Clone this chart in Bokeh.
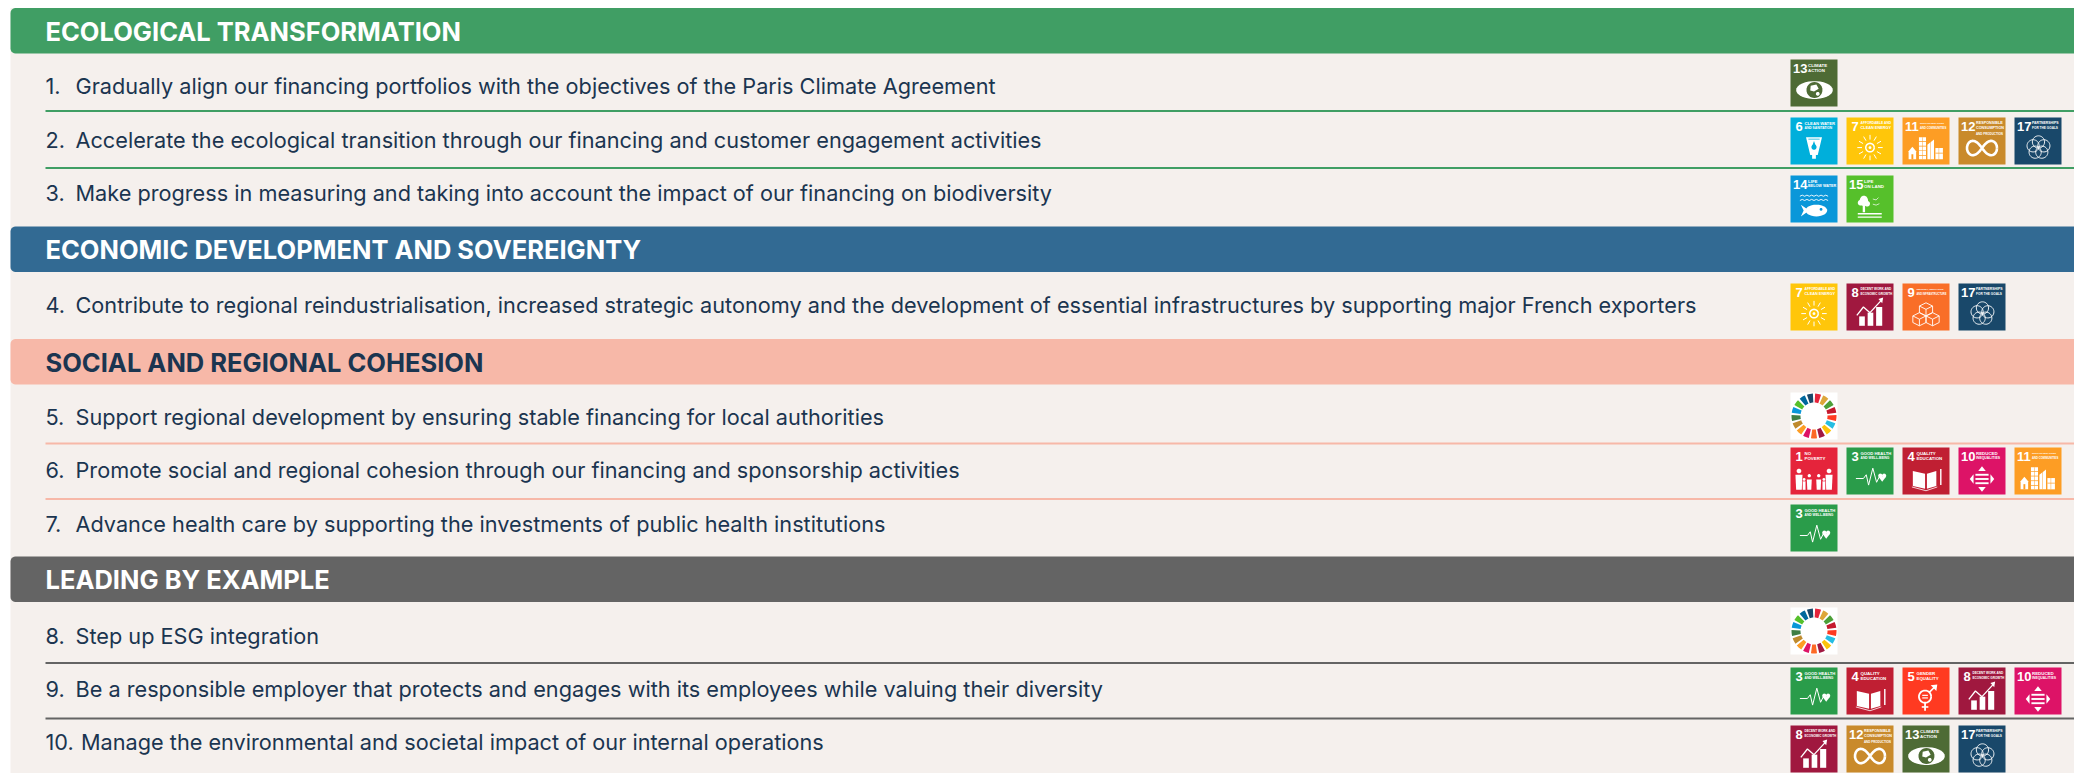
import numpy as np
from bokeh.plotting import figure
from bokeh.models import Range1d, ColumnDataSource
from bokeh.core.properties import value
from bokeh.embed import file_html
from bokeh.resources import INLINE

# ---- content -------------------------------------------------------------
section_titles = ["ECOLOGICAL TRANSFORMATION", "ECONOMIC DEVELOPMENT AND SOVEREIGNTY",
                  "SOCIAL AND REGIONAL COHESION", "LEADING BY EXAMPLE"]
section_colors = ["#409E64", "#326A93", "#F7B8A8", "#646464"]
section_text = ["#FFFFFF", "#FFFFFF", "#1B3550", "#FFFFFF"]

numbers = ["1.", "2.", "3.", "4.", "5.", "6.", "7.", "8.", "9.", "10."]
objectives = [
    "Gradually align our financing portfolios with the objectives of the Paris Climate Agreement",
    "Accelerate the ecological transition through our financing and customer engagement activities",
    "Make progress in measuring and taking into account the impact of our financing on biodiversity",
    "Contribute to regional reindustrialisation, increased strategic autonomy and the development of essential infrastructures by supporting major French exporters",
    "Support regional development by ensuring stable financing for local authorities",
    "Promote social and regional cohesion through our financing and sponsorship activities",
    "Advance health care by supporting the investments of public health institutions",
    "Step up ESG integration",
    "Be a responsible employer that protects and engages with its employees while valuing their diversity",
    "Manage the environmental and societal impact of our internal operations",
]
row_sdgs = [[13], [6, 7, 11, 12, 17], [14, 15], [7, 8, 9, 17], [0], [1, 3, 4, 10, 11], [3], [0],
            [3, 4, 5, 8, 10], [8, 12, 13, 17]]

sdg_colors = {1: "#E5243B", 3: "#2A9C4A", 4: "#C01F33", 5: "#FF3A21", 6: "#00AFDB", 7: "#FFC60A",
              8: "#A0183F", 9: "#F96E28", 10: "#DD1367", 11: "#FD9D24", 12: "#C98A2B", 13: "#4E6B35",
              14: "#0A97D9", 15: "#56C02B", 17: "#19486A"}
sdg_labels = {1: ["NO", "POVERTY"], 3: ["GOOD HEALTH", "AND WELL-BEING"], 4: ["QUALITY", "EDUCATION"],
              5: ["GENDER", "EQUALITY"], 6: ["CLEAN WATER", "AND SANITATION"],
              7: ["AFFORDABLE AND", "CLEAN ENERGY"], 8: ["DECENT WORK AND", "ECONOMIC GROWTH"],
              9: ["INDUSTRY, INNOVATION", "AND INFRASTRUCTURE"], 10: ["REDUCED", "INEQUALITIES"],
              11: ["SUSTAINABLE CITIES", "AND COMMUNITIES"], 12: ["RESPONSIBLE", "CONSUMPTION", "AND PRODUCTION"],
              13: ["CLIMATE", "ACTION"], 14: ["LIFE", "BELOW WATER"], 15: ["LIFE", "ON LAND"],
              17: ["PARTNERSHIPS", "FOR THE GOALS"]}
wheel_colors = ["#E5243B", "#DDA63A", "#4C9F38", "#C5192D", "#FF3A21", "#26BDE2", "#FCC30B", "#A21942", "#FD6925",
                "#DD1367", "#FD9D24", "#BF8B2E", "#3F7E44", "#0A97D9", "#56C02B", "#00689D", "#19486A"]

# ---- layout (page pixels) --------------------------------------------------
W, H = 2074, 773
band_tops = [7.5, 226, 338.5, 556]
band_h = 45.5
row_text_y = [85.5, 139.5, 192.5, 304.5, 416.5, 469.5, 523.5, 635.5, 688.5, 741.5]
row_icon_y = [59, 117, 175, 283, 392, 447, 504, 607, 667, 725]
rules = [(110.5, 0), (167.5, 0), (443, 2), (498.5, 2), (662.5, 3), (718, 3)]
icon_x = [1790, 1846, 1902, 1958, 2014]
S = 47
INK = "#1B3550"
BG = "#F5F0ED"

p = figure(width=W, height=H, x_range=Range1d(0, W), y_range=Range1d(H, 0),
           output_backend="svg", toolbar_location=None, min_border=0,
           background_fill_color="#FFFFFF", border_fill_color="#FFFFFF", outline_line_color=None)
p.axis.visible = False
p.grid.visible = False

polys, lines = [], []

def circle_pts(cx, cy, r, ry=None, n=28):
    t = np.linspace(0, 2 * np.pi, n, endpoint=False)
    return np.c_[cx + r * np.cos(t), cy + (ry or r) * np.sin(t)]

class Ic:
    def __init__(self, x, y, col):
        self.x, self.y, self.col = x, y, col
    def P(self, pts, color="#FFFFFF"):
        a = np.array(pts, float)
        polys.append((self.x + a[:, 0] * S, self.y + a[:, 1] * S, color))
    def L(self, pts, w=1.0, color="#FFFFFF"):
        a = np.array(pts, float)
        lines.append((self.x + a[:, 0] * S, self.y + a[:, 1] * S, color, w))
    def R(self, x0, y0, x1, y1, color="#FFFFFF"):
        self.P([(x0, y0), (x1, y0), (x1, y1), (x0, y1)], color)
    def C(self, cx, cy, r, color="#FFFFFF", ry=None):
        self.P(circle_pts(cx, cy, r, ry), color)
    def O(self, cx, cy, r, w=1.0, color="#FFFFFF"):
        a = circle_pts(cx, cy, r, n=32)
        self.L(np.r_[a, a[:1]], w, color)

def pic_rising(i):
    i.R(.27, .70, .39, .90); i.R(.45, .62, .57, .90); i.R(.63, .50, .76, .90)
    i.L([(.22, .68), (.36, .50), (.50, .62), (.74, .36)], 1.3)
    i.P([(.78, .30), (.68, .33), (.76, .42)])

def pic_flower(i):
    t = np.linspace(-np.pi / 2, 1.5 * np.pi, 5, endpoint=False)
    for a in t:
        i.O(.51 + .12 * np.cos(a), .64 + .12 * np.sin(a), .13, .9)

def pic_sun(i):
    i.O(.5, .64, .09, 1.5)
    i.C(.5, .64, .03)
    for a in np.linspace(0, 2 * np.pi, 12, endpoint=False):
        i.L([(.5 + .17 * np.cos(a), .64 + .17 * np.sin(a)), (.5 + .27 * np.cos(a), .64 + .27 * np.sin(a))], 1.0)

def pic_eye(i):
    t = np.linspace(0, np.pi, 16)
    top = np.c_[.51 - .39 * np.cos(t), .65 - .19 * np.sin(t)]
    bot = np.c_[.51 + .39 * np.cos(t), .65 + .19 * np.sin(t)]
    i.P(np.r_[top, bot])
    i.C(.51, .65, .17, i.col)
    i.P([(.43, .56), (.55, .53), (.60, .62), (.50, .68), (.42, .66)])
    i.C(.58, .73, .04)

def pic_water(i):
    i.P([(.33, .42), (.67, .42), (.58, .80), (.54, .80), (.54, .88), (.46, .88), (.46, .80), (.42, .80)])
    i.C(.5, .63, .055, i.col)
    i.P([(.5, .50), (.46, .61), (.54, .61)], i.col)
    i.R(.38, .45, .62, .47, i.col)

def pic_city(i):
    i.R(.35, .42, .50, .89)
    i.P([(.53, .89), (.53, .58), (.67, .47), (.67, .89)])
    i.R(.70, .65, .86, .89)
    i.P([(.13, .72), (.21, .62), (.29, .72), (.29, .89), (.13, .89)])
    i.R(.19, .78, .23, .89, i.col)
    for yy in (.50, .60, .70, .80):
        i.R(.35, yy, .50, yy + .015, i.col)
    i.R(.42, .42, .43, .89, i.col)
    i.R(.77, .65, .78, .89, i.col)
    i.R(.70, .75, .86, .765, i.col)
    i.R(.595, .5, .605, .89, i.col)

def pic_infinity(i):
    t = np.linspace(0, 2 * np.pi, 50)
    d = 1 + np.sin(t) ** 2
    i.L(np.c_[.5 + .32 * np.cos(t) / d, .65 + .32 * 1.35 * np.sin(t) * np.cos(t) / d], 2.6)

def pic_fish(i):
    for yy in (.43, .52):
        xs = np.linspace(.2, .8, 13)
        i.L(np.c_[xs, yy + .012 * np.where(np.arange(13) % 2 == 0, 1, -1)], .9)
    i.C(.55, .745, .23, ry=.125)
    i.P([(.22, .62), (.40, .745), (.22, .87), (.28, .745)])
    i.C(.65, .72, .03, i.col)

def pic_tree(i):
    i.C(.37, .54, .09, ry=.11)
    i.C(.30, .58, .06)
    i.C(.44, .60, .06)
    i.R(.345, .62, .395, .78)
    i.L([(.56, .50), (.63, .52), (.68, .47)], .7)
    i.L([(.56, .61), (.63, .63), (.70, .60)], .7)
    i.R(.24, .80, .75, .83); i.R(.24, .87, .75, .90)

def pic_cubes(i):
    def cube(cx, cy, s):
        i.L([(cx, cy - s), (cx + s, cy - s * .5), (cx + s, cy + s * .5), (cx, cy + s), (cx - s, cy + s * .5),
             (cx - s, cy - s * .5), (cx, cy - s)], .9)
        i.L([(cx - s, cy - s * .5), (cx, cy), (cx + s, cy - s * .5)], .9)
        i.L([(cx, cy), (cx, cy + s)], .9)
    cube(.5, .55, .14); cube(.36, .76, .14); cube(.64, .76, .14)

def pic_people(i):
    for cx, top, r, h in [(.18, .50, .05, .9), (.40, .60, .035, .9), (.60, .60, .035, .9), (.82, .50, .05, .9)]:
        i.C(cx, top, r)
        i.P([(cx - r * 1.5, top + .08), (cx + r * 1.5, top + .08), (cx + r * 1.2, h), (cx - r * 1.2, h)])
    i.C(.29, .68, .03); i.P([(.26, .72), (.32, .72), (.32, .9), (.26, .9)])
    i.C(.71, .68, .03); i.P([(.68, .72), (.74, .72), (.74, .9), (.68, .9)])

def pic_health(i):
    i.L([(.2, .66), (.36, .66), (.42, .58), (.47, .80), (.56, .44), (.64, .74), (.70, .62)], 1.0)
    i.C(.72, .60, .045); i.C(.80, .60, .045)
    i.P([(.68, .62), (.84, .62), (.76, .73)])

def pic_book(i):
    i.P([(.22, .50), (.48, .56), (.48, .88), (.22, .82)])
    i.P([(.52, .56), (.72, .50), (.72, .82), (.52, .88)])
    i.L([(.2, .84), (.5, .92), (.74, .84)], .8)
    i.R(.80, .46, .83, .80)

def pic_inequal(i):
    i.R(.36, .56, .64, .60); i.R(.36, .65, .64, .69); i.R(.36, .74, .64, .78)
    i.P([(.5, .40), (.42, .50), (.58, .50)])
    i.P([(.5, .94), (.42, .84), (.58, .84)])
    i.P([(.24, .67), (.32, .57), (.32, .77)])
    i.P([(.76, .67), (.68, .57), (.68, .77)])

def pic_gender(i):
    i.O(.48, .62, .13, 1.8)
    i.R(.42, .58, .54, .605); i.R(.42, .635, .54, .66)
    i.L([(.48, .75), (.48, .92)], 1.8)
    i.L([(.41, .84), (.55, .84)], 1.6)
    i.L([(.57, .53), (.70, .40)], 1.6)
    i.P([(.74, .36), (.60, .38), (.72, .50)])

pictos = {1: pic_people, 3: pic_health, 4: pic_book, 5: pic_gender, 6: pic_water, 7: pic_sun, 8: pic_rising,
          9: pic_cubes, 10: pic_inequal, 11: pic_city, 12: pic_infinity, 13: pic_eye, 14: pic_fish, 15: pic_tree,
          17: pic_flower}

# backdrop
p.quad(left=[10], right=[W], top=[7.5], bottom=[H], fill_color=BG, line_color=None)

# section bands (rounded on the left)
def band_pts(y0, y1, x0=10, x1=W, r=5):
    t = np.linspace(0, np.pi / 2, 6)
    tl = np.c_[x0 + r - r * np.cos(t), y0 + r - r * np.sin(t)]
    bl = np.c_[x0 + r - r * np.sin(t), y1 - r + r * np.cos(t)]
    return np.r_[tl, [[x1, y0], [x1, y1]], bl]

for top, col in zip(band_tops, section_colors):
    b = band_pts(top, top + band_h)
    p.patch(b[:, 0], b[:, 1], fill_color=col, line_color=None)

p.text(x=[45] * 4, y=[t + band_h / 2 + .7 for t in band_tops], text=section_titles, text_color=section_text,
       text_font=value("Inter"), text_font_size="25.5px", text_font_style="bold", text_baseline="middle")

# row rules
for y, s in rules:
    p.line([45, W], [y, y], line_color=section_colors[s], line_width=2)

# row text
p.text(x=[45] * 10, y=row_text_y, text=numbers, text_color=INK, text_font=value("Inter"),
       text_font_size="21.7px", text_baseline="middle")
p.text(x=[75] * 9 + [80.5], y=row_text_y, text=objectives, text_color=INK, text_font=value("Inter"),
       text_font_size="21.7px", text_baseline="middle")

# icons
num_t, lab_t = dict(x=[], y=[], text=[]), dict(x=[], y=[], text=[], size=[])
for sdgs, y in zip(row_sdgs, row_icon_y):
    for goal, x in zip(sdgs, icon_x):
        if goal == 0:
            polys.append((np.array([x, x + S, x + S, x], float), np.array([y, y, y + S, y + S], float), "#FFFFFF"))
            cx, cy = x + S / 2, y + S / 2
            step = 2 * np.pi / 17
            for k, col in enumerate(wheel_colors):
                a = np.linspace(k * step + .05, (k + 1) * step - .05, 5) - np.pi / 2
                outer = np.c_[cx + 22.5 * np.cos(a), cy + 22.5 * np.sin(a)]
                inner = np.c_[cx + 13.5 * np.cos(a[::-1]), cy + 13.5 * np.sin(a[::-1])]
                q = np.r_[outer, inner]
                polys.append((q[:, 0], q[:, 1], col))
            continue
        col = sdg_colors[goal]
        polys.append((np.array([x, x + S, x + S, x], float), np.array([y, y, y + S, y + S], float), col))
        pictos[goal](Ic(x, y, col))
        num_t["x"].append(x + 2.5 + (2.5 if goal < 10 else 0)); num_t["y"].append(y + 9); num_t["text"].append(str(goal))
        lx = x + (14 if goal < 10 else 17.5)
        avail = S - (lx - x) - 1.5
        for j, t in enumerate(sdg_labels[goal]):
            lab_t["x"].append(lx); lab_t["y"].append(y + 5.5 + j * 5.2); lab_t["text"].append(t)
            lab_t["size"].append(f"{min(4.4, avail / (0.68 * len(t))):.2f}px")

p.patches(xs=[q[0].tolist() for q in polys], ys=[q[1].tolist() for q in polys], fill_color=[q[2] for q in polys],
          line_color=None)
for xs, ys, c, w in lines:
    p.line(xs, ys, line_color=c, line_width=w)

p.text(x=num_t["x"], y=num_t["y"], text=num_t["text"], text_color="#FFFFFF", text_font=value("Liberation Sans"),
       text_font_size="13px", text_font_style="bold", text_baseline="middle")
p.text(x="x", y="y", text="text", source=ColumnDataSource(lab_t), text_color="#FFFFFF",
       text_font=value("Liberation Sans"), text_font_size="size", text_font_style="bold", text_baseline="middle")

open("out.html", "w").write(file_html(p, INLINE))
